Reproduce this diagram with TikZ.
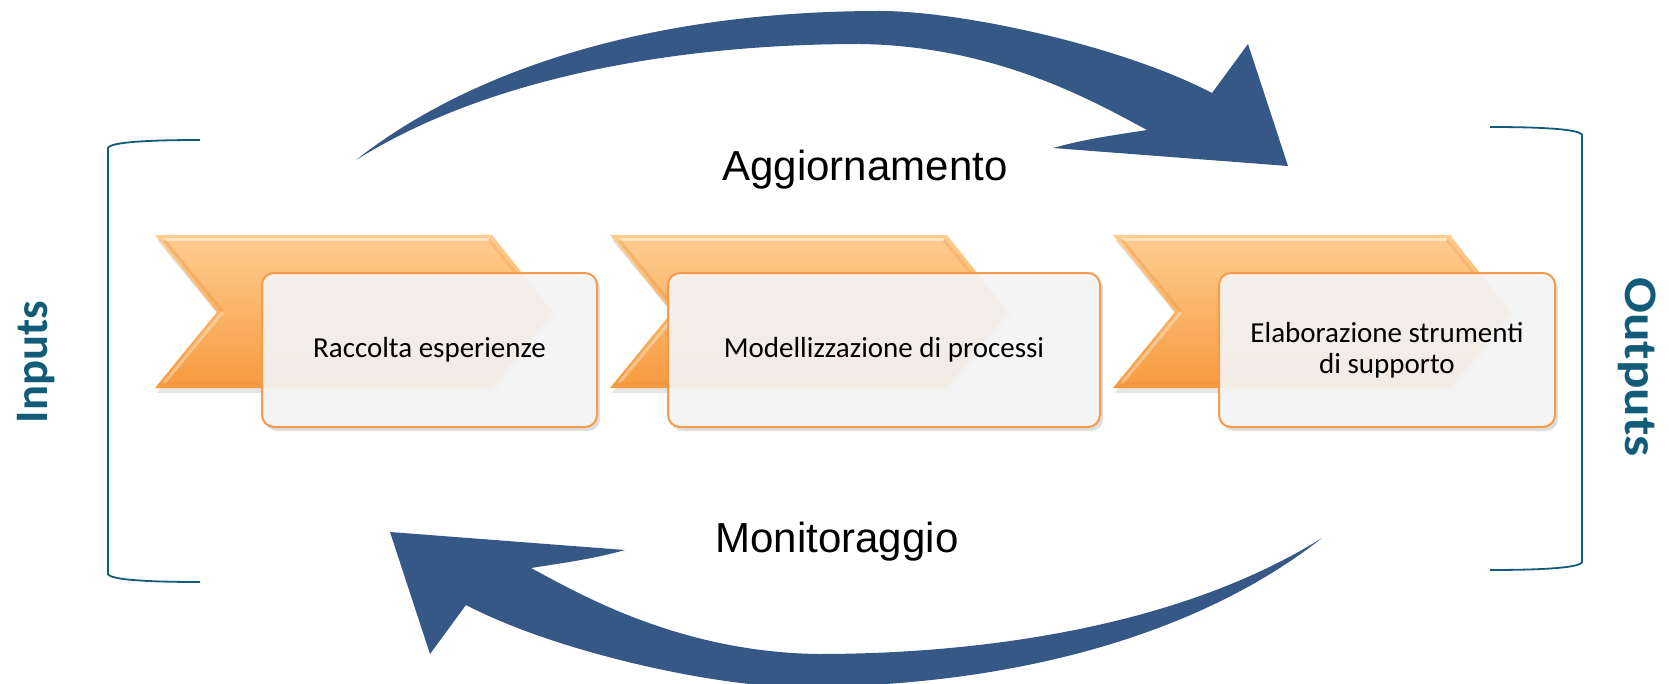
\documentclass[tikz,border=0pt]{standalone}
\usepackage{fontspec}
\setmainfont{Carlito}
\newfontfamily\arialf{Liberation Sans}
\usetikzlibrary{shadows}
\definecolor{arrowblue}{RGB}{53,88,135}
\definecolor{tealc}{RGB}{18,92,122}
\definecolor{chevtop}{RGB}{254,205,145}
\definecolor{chevmid}{RGB}{252,184,108}
\definecolor{chevbot}{RGB}{247,154,62}
\definecolor{boxborder}{RGB}{245,155,75}
\definecolor{boxfill}{RGB}{246,246,246}
\newcommand\mychevron[1]{%
  \begin{scope}[shift={(#1,0)}]
    \fill[black, opacity=0.10] (2,240) -- (339,240) -- (401,316) -- (339,393) -- (2,393) -- (64,316) -- cycle;
    \shade[top color=chevtop, middle color=chevmid, bottom color=chevbot]
      (0,235) -- (337,235) -- (398,312) -- (337,388) -- (0,388) -- (62,312) -- cycle;
    \draw[white, opacity=0.45, line width=1.5pt] (9,240) -- (334,240);
    \draw[chevbot!70!brown, opacity=0.35, line width=1.5pt] (9,240) -- (68,312);
    \draw[white, opacity=0.35, line width=1.5pt] (68,312) -- (9,383);
    \draw[chevbot!70!brown, opacity=0.35, line width=1.5pt] (9,383) -- (334,383);
    \draw[chevbot!70!brown, opacity=0.25, line width=1.5pt] (334,240) -- (392,312);
  \end{scope}}
\def\myarrowshape{(356,160) .. controls (470,70) and (650,11) .. (880,11)
  .. controls (960,11) and (1120,45) .. (1212,93) -- (1248,44) -- (1288,166)
  -- (1053,148) .. controls (1085,139) and (1115,135) .. (1147,130)
  .. controls (1100,105) and (1000,46) .. (860,44)
  .. controls (700,44) and (500,70) .. (356,160) -- cycle}
\begin{document}
\begin{tikzpicture}[x=0.5pt,y=-0.5pt,
  procbox/.style={draw=boxborder, line width=1pt, fill=boxfill, fill opacity=0.9,
    text opacity=1, rounded corners=6pt, minimum height=77pt, align=center,
    font=\fontsize{14.5}{15.5}\selectfont, inner sep=2pt,
    drop shadow={shadow xshift=1.5pt, shadow yshift=-2pt, opacity=0.25}},
  cyclelabel/.style={font=\arialf\fontsize{21}{24}\selectfont, anchor=base},
  sidelabel/.style={font=\bfseries\fontsize{23.3}{26}\selectfont, text=tealc, anchor=base},
  bracketline/.style={draw=tealc, line width=0.9pt}]
\useasboundingbox (0,0) rectangle (1669,684);
% arrows
\fill[arrowblue] \myarrowshape;
\begin{scope}[rotate around={180:(839,349)}]
  \fill[arrowblue] \myarrowshape;
\end{scope}
% brackets
\draw[bracketline] (200,140) .. controls (150,140) and (110,142) .. (108,148)
  -- (108,574) .. controls (110,580) and (150,582) .. (200,582);
\draw[bracketline] (1490,127) .. controls (1540,127) and (1580,129) .. (1582,135)
  -- (1582,562) .. controls (1580,568) and (1540,570) .. (1490,570);
% chevrons
\mychevron{155}
\mychevron{610}
\mychevron{1113}
% boxes
\node[procbox, minimum width=167.5pt] (b1) at (429.5,350) {Raccolta esperienze};
\node[procbox, minimum width=216pt] (b2) at (884,350) {Modellizzazione di processi};
\node[procbox, minimum width=168pt] (b3) at (1387,350) {Elaborazione strumenti\\di supporto};
% labels
\node[cyclelabel] (agg) at (865,181) {Aggiornamento};
\node[cyclelabel] (mon) at (837,552) {Monitoraggio};
\node[sidelabel, rotate=90] (inp) at (47,362) {Inputs};
\node[sidelabel, rotate=-90] (outp) at (1625,367) {\scalebox{1.14}[1]{Outputs}};
\end{tikzpicture}
\end{document}
